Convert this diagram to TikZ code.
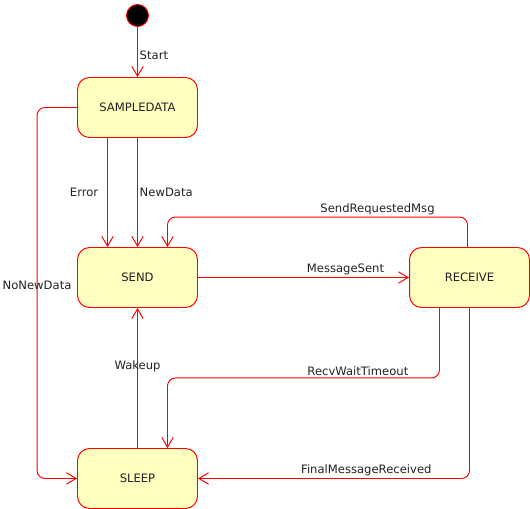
\documentclass[tikz,border=0pt]{standalone}
\usepackage{fontspec}
\setmainfont{DejaVu Sans}
\usetikzlibrary{arrows.meta}
\definecolor{statefill}{RGB}{255,255,192}
\definecolor{txtgray}{RGB}{34,34,34}
\begin{document}
\begin{tikzpicture}[x=0.02cm, y=-0.02cm, font=\fontsize{6.6}{8}\selectfont, text=txtgray,
	state/.style={draw=red, fill=statefill, line width=0.55pt, rounded corners=0.24cm, minimum width=2.4cm, minimum height=1.2cm, inner sep=0pt},
	trans/.style={draw=red, line width=0.55pt, rounded corners=0.16cm, -{Straight Barb[length=5.5pt, width=6.5pt]}},
	lbl/.style={inner sep=1pt}]
	\useasboundingbox (0,0) rectangle (530,509);

	% start state
	\node[circle, fill=black, draw=red, line width=0.55pt, minimum size=0.44cm, inner sep=0pt] (init) at (137.5,15.5) {};

	% states
	\node[state] (sample) at (137.5,107.5) {SAMPLEDATA};
	\node[state] (send) at (137.5,277.5) {SEND};
	\node[state] (receive) at (469.5,277.5) {RECEIVE};
	\node[state] (sleep) at (137.5,478.5) {SLEEP};

	% transitions
	\draw[trans] (init) -- node[lbl, right, yshift=-2pt] {Start} (sample);
	\draw[trans] ([xshift=-0.6cm]sample.south) -- node[lbl, left, xshift=-4pt] {Error} ([xshift=-0.6cm]send.north);
	\draw[trans] (sample) -- node[lbl, right] {NewData} (send);
	\draw[trans] ([xshift=-0.04cm]receive.north) -- ++(0,0.6cm) -| node[lbl, above, pos=0.15] {SendRequestedMsg} ([xshift=0.6cm]send.north);
	\draw[trans] (send) -- node[lbl, above, xshift=0.84cm] {MessageSent} (receive);
	\draw[trans] (sample.west) -- ++(-0.8cm,0) |- node[lbl, pos=0.24] {NoNewData} (sleep.west);
	\draw[trans] (sleep) -- node[lbl, pos=0.58] {Wakeup} (send);
	\draw[trans] ([xshift=-0.6cm]receive.south) -- ++(0,-1.4cm) -| node[lbl, above, pos=0.15] {RecvWaitTimeout} ([xshift=0.6cm]sleep.north);
	\draw[trans] (receive.south) |- node[lbl, above, pos=0.69] {FinalMessageReceived} (sleep.east);

\end{tikzpicture}
\end{document}
